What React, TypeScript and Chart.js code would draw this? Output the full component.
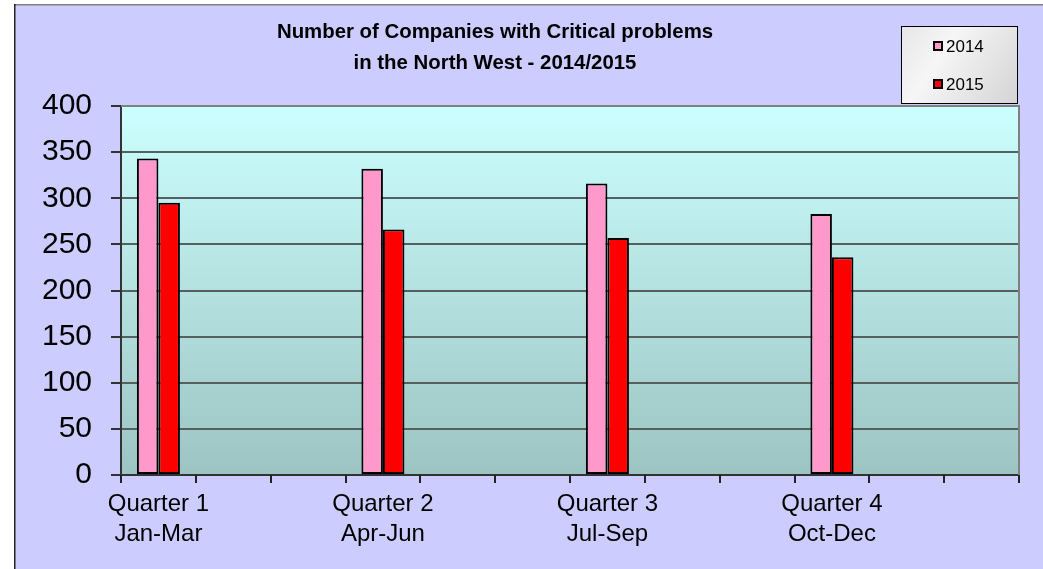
import React, { useEffect, useRef } from 'react';
import { Chart, registerables } from 'chart.js';

Chart.register(...registerables);

// ---- data ----
const quarterNames = ['Quarter 1', 'Quarter 2', 'Quarter 3', 'Quarter 4'];
const monthRanges = ['Jan-Mar', 'Apr-Jun', 'Jul-Sep', 'Oct-Dec'];
const seriesNames = ['2014', '2015'];
const values2014 = [343, 332, 316, 283];
const values2015 = [295, 266, 257, 236];
const yMin = 0;
const yMax = 400;
const yStep = 50;
const titleLines = ['Number of Companies with Critical problems', 'in the North West - 2014/2015'];
const slotsPerQuarter = 3;

const seriesColors = ['#ff99cc', '#ff0000'];
const FONT = '"Liberation Sans", Arial, sans-serif';

// build the 12-slot category table (each quarter followed by two blank slots)
const labels: (string | string[])[] = [];
const data2014: (number | null)[] = [];
const data2015: (number | null)[] = [];
quarterNames.forEach((q, i) => {
  labels.push([q, monthRanges[i]]);
  data2014.push(values2014[i]);
  data2015.push(values2015[i]);
  for (let k = 1; k < slotsPerQuarter; k++) {
    labels.push('');
    data2014.push(null);
    data2015.push(null);
  }
});

const W = 1043;
const H = 569;
const X_TICK_LEN = 8;

const decorPlugin = {
  id: 'decor',
  beforeDraw(chart: any) {
    const { ctx, chartArea } = chart;
    ctx.save();
    ctx.fillStyle = '#ffffff';
    ctx.fillRect(0, 0, W, H);
    ctx.fillStyle = '#ccccff';
    ctx.fillRect(14, 4, W - 14, H - 4);
    // frame lines
    ctx.fillStyle = '#808080';
    ctx.fillRect(14, 4, W - 14, 1.5);
    ctx.fillStyle = '#222222';
    ctx.fillRect(14, 4, 1.5, H - 4);
    // plot area gradient
    const { left, top, right, bottom } = chartArea;
    const g = ctx.createLinearGradient(0, top, 0, bottom);
    g.addColorStop(0, '#ccffff');
    g.addColorStop(1, '#9cc4c2');
    ctx.fillStyle = g;
    ctx.fillRect(left, top, right - left, bottom - top);
    ctx.restore();
  },
  afterDraw(chart: any) {
    const { ctx, chartArea } = chart;
    const { left, top, right, bottom } = chartArea;
    ctx.save();
    // plot border top & right
    ctx.strokeStyle = '#808080';
    ctx.lineWidth = 2;
    ctx.beginPath();
    ctx.moveTo(left, top);
    ctx.lineTo(right, top);
    ctx.lineTo(right, bottom);
    ctx.stroke();

    // x-axis tick marks at every category boundary
    const xs = chart.scales.x;
    const n = labels.length;
    const half = (xs.getPixelForValue(1) - xs.getPixelForValue(0)) / 2;
    ctx.fillStyle = '#222222';
    for (let i = 0; i <= n; i++) {
      const px = i < n ? xs.getPixelForValue(i) - half : xs.getPixelForValue(n - 1) + half;
      ctx.fillRect(Math.round(px) - 1, bottom, 2, X_TICK_LEN);
    }

    // title
    ctx.fillStyle = '#000000';
    ctx.font = `bold 20.4px ${FONT}`;
    ctx.textAlign = 'center';
    ctx.textBaseline = 'alphabetic';
    ctx.fillText(titleLines[0], 495, 38);
    ctx.fillText(titleLines[1], 495, 69);

    // legend
    const lx = 901, ly = 26, lw = 116, lh = 77;
    const lg = ctx.createLinearGradient(lx, ly, lx + lw, ly + lh);
    lg.addColorStop(0, '#e6e6e6');
    lg.addColorStop(0.35, '#f6f6f6');
    lg.addColorStop(1, '#d4d4d4');
    ctx.fillStyle = lg;
    ctx.fillRect(lx, ly, lw, lh);
    ctx.strokeStyle = '#000000';
    ctx.lineWidth = 1;
    ctx.strokeRect(lx + 0.5, ly + 0.5, lw, lh);
    const centers = [46, 84];
    const baselines = [52, 90];
    seriesNames.forEach((name, i) => {
      const cy = centers[i];
      ctx.fillStyle = seriesColors[i];
      ctx.fillRect(933, cy - 5, 10, 10);
      ctx.strokeStyle = '#000000';
      ctx.lineWidth = 2;
      ctx.strokeRect(934, cy - 4, 8, 8);
      ctx.fillStyle = '#000000';
      ctx.font = `17px ${FONT}`;
      ctx.textAlign = 'left';
      ctx.textBaseline = 'alphabetic';
      ctx.fillText(name, 946, baselines[i]);
    });
    ctx.restore();
  },
};

export default function App() {
  const ref = useRef<HTMLCanvasElement>(null);
  useEffect(() => {
    if (!ref.current) return;
    const chart = new Chart(ref.current, {
      type: 'bar',
      data: {
        labels,
        datasets: [
          {
            label: seriesNames[0],
            data: data2014,
            backgroundColor: seriesColors[0],
            borderColor: '#000000',
            borderWidth: 2,
            borderSkipped: false,
          },
          {
            label: seriesNames[1],
            data: data2015,
            backgroundColor: seriesColors[1],
            borderColor: '#000000',
            borderWidth: 2,
            borderSkipped: false,
          },
        ],
      },
      options: {
        animation: false,
        responsive: false,
        events: [],
        layout: { padding: { top: 106, right: 24, left: 0, bottom: 0 } },
        datasets: { bar: { categoryPercentage: 0.575, barPercentage: 1 } },
        plugins: {
          legend: { display: false },
          title: { display: false },
          tooltip: { enabled: false },
        },
        scales: {
          x: {
            type: 'category',
            offset: true,
            afterFit: (s: any) => {
              s.height = 94;
            },
            grid: {
              display: false,
              drawTicks: false,
            },
            border: { display: true, color: '#333333', width: 2 },
            ticks: {
              autoSkip: false,
              maxRotation: 0,
              minRotation: 0,
              padding: 14,
              color: '#000000',
              font: { family: FONT, size: 24, lineHeight: 1.25 },
            },
          },
          y: {
            min: yMin,
            max: yMax,
            afterFit: (s: any) => {
              s.width = 121;
            },
            grid: {
              color: '#556060',
              lineWidth: 2,
              tickLength: 10,
              tickColor: '#333333',
            },
            border: { display: true, color: '#333333', width: 2 },
            ticks: {
              stepSize: yStep,
              padding: 19,
              color: '#000000',
              font: { family: FONT, size: 30 },
            },
          },
        },
      },
      plugins: [decorPlugin],
    } as any);
    return () => chart.destroy();
  }, []);
  return (
    <div style={{ position: 'fixed', left: 0, top: 0, width: W, height: H }}>
      <canvas ref={ref} width={W} height={H} style={{ display: 'block', width: W, height: H }} />
    </div>
  );
}
